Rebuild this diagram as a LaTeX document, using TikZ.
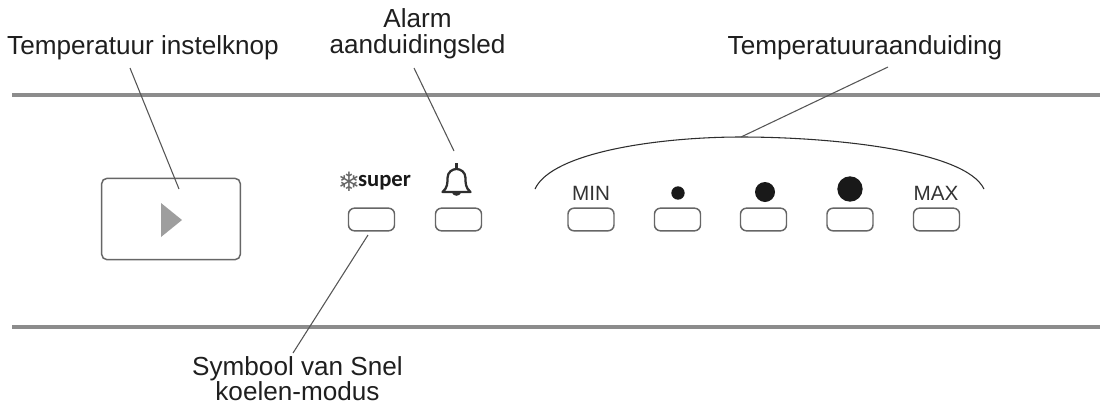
\documentclass[tikz,border=0pt]{standalone}
\usepackage{fontspec}
\setmainfont{Liberation Sans}
\newfontfamily\carl{Carlito}
\newfontfamily\dejav{DejaVu Sans}
\definecolor{rule}{HTML}{8C8C8C}
\definecolor{ink}{HTML}{2E2E2E}
\definecolor{lead}{HTML}{555555}
\tikzset{
  x=0.75pt,y=-0.75pt,
  label text/.style={font=\fontsize{19.6pt}{19.2pt}\selectfont,text=black!88,align=center,inner sep=0pt},
  keybox/.style={draw=black!60,line width=1.1pt,rounded corners=4.5pt,fill=white,minimum width=34.5pt,minimum height=17pt,inner sep=0pt},
  rail/.style={draw=rule,line width=2.6pt},
  leader/.style={draw=lead,line width=0.8pt},
  key text/.style={font=\fontsize{15.5pt}{17pt}\selectfont,text=black!80,inner sep=0pt},
  dotmark/.style={circle,fill=black!90,inner sep=0pt},
}
\begin{document}
\begin{tikzpicture}
\useasboundingbox (0,0) rectangle (1103,404);
\fill[white] (0,0) rectangle (1103,404);
% rails
\coordinate (r1a) at (12,95); \coordinate (r1b) at (1100,95);
\coordinate (r2a) at (12,327); \coordinate (r2b) at (1100,327);
\draw[rail] (r1a) -- (r1b);
\draw[rail] (r2a) -- (r2b);
% knob
\node[draw=black!60,line width=1.1pt,rounded corners=4pt,minimum width=104pt,minimum height=61pt,inner sep=0pt] (knob) at (171,219) {};
\coordinate (tri1) at (161,203); \coordinate (tri2) at (182,220); \coordinate (tri3) at (161,237);
\fill[black!38] (tri1) -- (tri2) -- (tri3) -- cycle;
% keys
\node[keybox] (ksuper) at (371.5,219.5) {};
\node[keybox] (kbell) at (458.5,219.5) {};
\node[keybox] (kmin) at (591,219.5) {};
\node[keybox] (k1) at (677.5,219.5) {};
\node[keybox] (k2) at (763.5,219.5) {};
\node[keybox] (k3) at (850,219.5) {};
\node[keybox] (kmax) at (936.5,219.5) {};
% key marks
\node[key text] (tmin) at (591,193) {MIN};
\node[key text] (tmax) at (936,193) {MAX};
\node[dotmark,minimum size=10pt] (d1) at (678,193) {};
\node[dotmark,minimum size=15pt] (d2) at (765,192) {};
\node[dotmark,minimum size=19pt] (d3) at (850,189) {};
\node[inner sep=0pt,font=\dejav\fontsize{20pt}{22pt}\selectfont,text=black!60] (flake) at (349,182) {❄};
\node[inner sep=0pt,font=\carl\bfseries\fontsize{17pt}{19pt}\selectfont,text=black!90] (super) at (384.5,183) {super};
% bell
\begin{scope}[shift={(456.5,178)}]
\draw[ink,line width=1.7pt,line join=round] (-14,14) .. controls (-9,10) and (-9,5) .. (-9,0) .. controls (-9,-6) and (-4,-9) .. (0,-9) .. controls (4,-9) and (9,-6) .. (9,0) .. controls (9,5) and (9,10) .. (14,14) -- cycle;
\draw[ink,line width=2pt] (0,-9) -- (0,-15);
\fill[ink] (-5,14) .. controls (-3,19) and (3,19) .. (5,14) -- cycle;
\end{scope}
% arc
\coordinate (arcL) at (535,189); \coordinate (arcR) at (984,189); \coordinate (arcT) at (741,137);
\draw[draw=ink,line width=0.8pt] (arcL) .. controls (552,152) and (660,137) .. (741,137) .. controls (830,137) and (965,150) .. (984,189);
% labels
\node[label text] (lknob) at (143,48) {Temperatuur instelknop};
\node[label text] (lalarm) at (417.5,33.8) {Alarm\\aanduidingsled};
\node[label text] (ltemp) at (865,48) {Temperatuuraanduiding};
\node[label text] (lsnel) at (297.5,378.8) {Symbool van Snel\\koelen-modus};
% leaders
\coordinate (e1) at (130,68); \coordinate (e2) at (179,189);
\coordinate (e3) at (414,68); \coordinate (e4) at (454,151);
\coordinate (e5) at (888,67); \coordinate (e6) at (293,353); \coordinate (e7) at (368,235);
\draw[leader] (e1) -- (e2);
\draw[leader] (e3) -- (e4);
\draw[leader] (e5) -- (arcT);
\draw[leader] (e6) -- (e7);
\end{tikzpicture}
\end{document}
